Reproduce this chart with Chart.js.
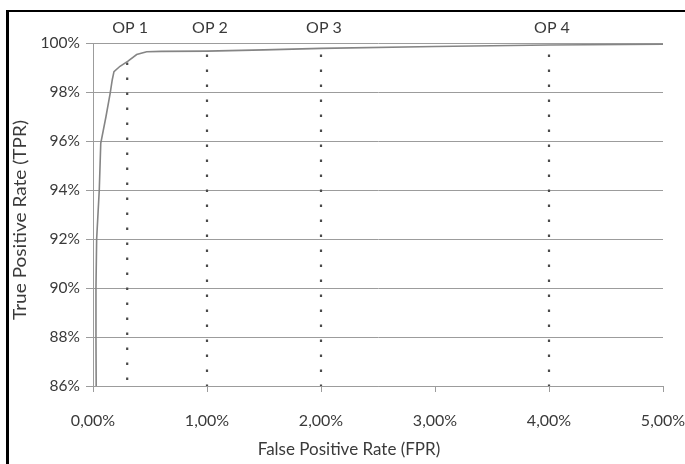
<!DOCTYPE html>
<html>
<head>
<meta charset="utf-8">
<script src="https://cdn.jsdelivr.net/npm/chart.js@4/dist/chart.umd.min.js"></script>
<style>
  html, body { margin: 0; padding: 0; background: #ffffff; }
  canvas { display: block; }
</style>
</head>
<body>
<canvas id="c" width="685" height="464"></canvas>
<script>
// ROC curve: False Positive Rate (%) vs True Positive Rate (%)
const fpr = [0.028, 0.026, 0.026, 0.032, 0.055, 0.068, 0.114, 0.149, 0.169, 0.184, 0.237, 0.307, 0.383, 0.471, 0.6, 1.0, 1.5, 2.0, 3.0, 4.0, 5.0];
const tpr = [86.0, 88.0, 90.0, 92.0, 94.0, 95.9, 97.0, 97.9, 98.5, 98.83, 99.05, 99.26, 99.53, 99.64, 99.66, 99.67, 99.72, 99.78, 99.86, 99.92, 99.95];

// Operating points
const opLabels = ["OP 1", "OP 2", "OP 3", "OP 4"];
const opFpr = [0.3, 1.0, 2.0, 4.0];
const opTop = [99.2, 99.53, 99.53, 99.53];

// Axis ticks
const xTicks = [0, 1, 2, 3, 4, 5];
const yTicks = [86, 88, 90, 92, 94, 96, 98, 100];

const FONT = "Lato";
const TEXT = "#3a3a3a";
const GRID = "#9c9c9c";

const datasets = [{
  data: fpr.map((x, i) => ({ x: x, y: tpr[i] })),
  borderColor: "#858585",
  borderWidth: 1.6,
  pointRadius: 0,
  tension: 0,
  fill: false
}];
opFpr.forEach((x, i) => {
  datasets.push({
    data: [{ x: x, y: opTop[i] }, { x: x, y: yTicks[0] }],
    borderColor: "#4a4a4a",
    borderWidth: 2.2,
    borderDash: [2.5, 12.5],
    pointRadius: 0,
    fill: false
  });
});

const decor = {
  id: "decor",
  afterDraw(chart) {
    const ctx = chart.ctx;
    const xs = chart.scales.x;
    ctx.save();
    // frame (top and left black border)
    ctx.fillStyle = "#000000";
    ctx.fillRect(6, 10, 685 - 6, 2);
    ctx.fillRect(6, 10, 3, 464 - 10);
    // OP labels
    ctx.fillStyle = TEXT;
    ctx.font = "16px " + FONT;
    ctx.textAlign = "center";
    ctx.textBaseline = "middle";
    opLabels.forEach((t, i) => {
      ctx.fillText(t, xs.getPixelForValue(opFpr[i]) + 3, 28);
    });
    // axis titles
    ctx.font = "17px " + FONT;
    ctx.fillText("False Positive Rate (FPR)", 349, 450);
    ctx.translate(21, 220);
    ctx.rotate(-Math.PI / 2);
    ctx.scale(1.12, 1);
    ctx.fillText("True Positive Rate (TPR)", 0, 0);
    ctx.restore();
  }
};

new Chart(document.getElementById("c"), {
  type: "line",
  data: { datasets: datasets },
  options: {
    responsive: false,
    animation: false,
    layout: { padding: { top: 43, right: 22, left: 0, bottom: 0 } },
    plugins: { legend: { display: false }, tooltip: { enabled: false } },
    scales: {
      x: {
        type: "linear",
        min: xTicks[0],
        max: xTicks[xTicks.length - 1],
        afterBuildTicks: s => { s.ticks = xTicks.map(v => ({ value: v })); },
        afterFit: s => { s.height = 78; s.paddingLeft = 0; s.paddingRight = 0; },
        grid: { drawOnChartArea: false, drawTicks: true, tickLength: 6, color: GRID, lineWidth: 1 },
        border: { display: true, color: GRID, width: 1 },
        ticks: {
          padding: 19,
          color: TEXT,
          font: { family: FONT, size: 16 },
          maxRotation: 0,
          callback: v => v.toFixed(2).replace(".", ",") + "%"
        }
      },
      y: {
        type: "linear",
        min: yTicks[0],
        max: yTicks[yTicks.length - 1],
        afterBuildTicks: s => { s.ticks = yTicks.map(v => ({ value: v })); },
        afterFit: s => { s.width = 93; s.paddingTop = 0; s.paddingBottom = 0; },
        grid: { drawOnChartArea: true, drawTicks: true, tickLength: 7, color: GRID, lineWidth: 1 },
        border: { display: true, color: GRID, width: 1 },
        ticks: {
          padding: 6,
          color: TEXT,
          font: { family: FONT, size: 15.5 },
          callback: v => v + "%"
        }
      }
    }
  },
  plugins: [decor]
});
</script>
</body>
</html>
